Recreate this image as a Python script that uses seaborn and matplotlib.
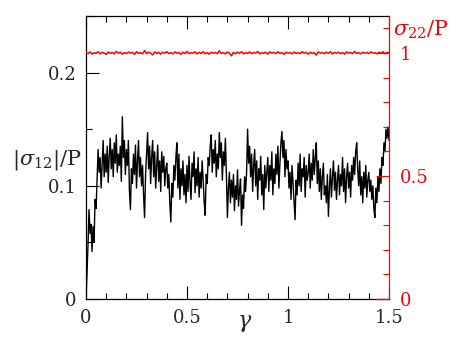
import numpy as np
import pandas as pd
import matplotlib
matplotlib.use('Agg')
import matplotlib.pyplot as plt
import seaborn as sns
from matplotlib.ticker import MultipleLocator

# |sigma_12|/P, every 0.005 in gamma
stress12 = [
    0.000, 0.022, 0.048, 0.079, 0.058, 0.066, 0.042, 0.064, 0.050, 0.088, 0.080, 0.105, 0.132, 0.112, 0.125, 0.098, 0.118, 0.140, 0.108, 0.128,
    0.112, 0.135, 0.103, 0.126, 0.142, 0.115, 0.132, 0.108, 0.138, 0.120, 0.145, 0.112, 0.128, 0.118, 0.135, 0.104, 0.161, 0.125, 0.140, 0.110,
    0.132, 0.118, 0.140, 0.096, 0.079, 0.115, 0.102, 0.128, 0.110, 0.136, 0.098, 0.122, 0.140, 0.108, 0.125, 0.100, 0.118, 0.092, 0.072, 0.110,
    0.128, 0.147, 0.115, 0.135, 0.102, 0.125, 0.140, 0.108, 0.130, 0.098, 0.118, 0.136, 0.104, 0.122, 0.095, 0.130, 0.112, 0.126, 0.100, 0.115,
    0.120, 0.098, 0.110, 0.085, 0.068, 0.102, 0.090, 0.118, 0.105, 0.125, 0.138, 0.098, 0.128, 0.088, 0.115, 0.100, 0.122, 0.092, 0.110, 0.085,
    0.118, 0.095, 0.126, 0.102, 0.088, 0.120, 0.108, 0.130, 0.094, 0.115, 0.100, 0.125, 0.090, 0.112, 0.098, 0.122, 0.105, 0.086, 0.074, 0.110,
    0.102, 0.125, 0.118, 0.135, 0.145, 0.112, 0.132, 0.120, 0.140, 0.108, 0.128, 0.115, 0.147, 0.125, 0.138, 0.105, 0.130, 0.118, 0.142, 0.110,
    0.072, 0.098, 0.112, 0.085, 0.105, 0.090, 0.110, 0.078, 0.100, 0.088, 0.114, 0.082, 0.096, 0.106, 0.065, 0.092, 0.080, 0.108, 0.095, 0.112,
    0.150, 0.120, 0.135, 0.108, 0.128, 0.095, 0.118, 0.132, 0.100, 0.122, 0.088, 0.115, 0.105, 0.126, 0.092, 0.110, 0.079, 0.118, 0.098, 0.112,
    0.125, 0.095, 0.118, 0.105, 0.130, 0.092, 0.115, 0.102, 0.128, 0.110, 0.135, 0.098, 0.120, 0.138, 0.148, 0.125, 0.140, 0.108, 0.132, 0.115,
    0.122, 0.098, 0.112, 0.088, 0.118, 0.102, 0.085, 0.070, 0.105, 0.092, 0.120, 0.100, 0.128, 0.095, 0.115, 0.108, 0.125, 0.090, 0.118, 0.105,
    0.112, 0.128, 0.098, 0.120, 0.105, 0.132, 0.110, 0.125, 0.138, 0.102, 0.122, 0.095, 0.115, 0.088, 0.108, 0.120, 0.092, 0.100, 0.085, 0.110,
    0.073, 0.098, 0.115, 0.090, 0.108, 0.122, 0.096, 0.112, 0.088, 0.105, 0.118, 0.092, 0.110, 0.100, 0.125, 0.095, 0.115, 0.085, 0.108, 0.120,
    0.098, 0.112, 0.090, 0.118, 0.105, 0.125, 0.110, 0.130, 0.138, 0.115, 0.100, 0.122, 0.092, 0.108, 0.085, 0.112, 0.098, 0.118, 0.090, 0.105,
    0.112, 0.095, 0.105, 0.088, 0.100, 0.080, 0.072, 0.098, 0.085, 0.108, 0.095, 0.115, 0.102, 0.125, 0.118, 0.138, 0.130, 0.150, 0.142, 0.152, 0.140,
]

# sigma_22/P, read every 0.01 in gamma
stress22 = [
    1.002, 0.997, 1.004, 0.995, 1.001, 0.998, 1.005, 0.996, 1.003, 0.999, 0.994, 1.004, 0.998, 1.002, 0.996, 1.006, 0.999, 1.003, 0.995, 1.001,
    0.997, 1.004, 0.999, 1.002, 0.994, 1.005, 0.998, 1.001, 0.996, 1.010, 0.997, 1.003, 0.999, 0.992, 1.004, 0.998, 1.002, 0.995, 1.003, 0.999,
    1.005, 0.997, 1.001, 0.996, 1.004, 0.999, 1.002, 0.994, 1.003, 0.998, 1.006, 0.997, 1.001, 0.999, 1.004, 0.996, 1.002, 0.998, 1.005, 0.997,
    1.001, 0.995, 1.003, 0.999, 1.002, 0.997, 1.008, 0.998, 1.001, 0.996, 1.004, 0.999, 0.988, 1.002, 0.997, 1.003, 0.999, 1.005, 0.996, 1.001,
    0.998, 1.004, 0.997, 1.002, 0.999, 1.006, 0.996, 1.001, 0.998, 1.003, 0.995, 1.004, 0.999, 1.002, 0.997, 1.005, 0.998, 1.001, 0.994, 1.003,
    0.999, 1.002, 0.996, 1.004, 0.998, 1.001, 0.997, 1.005, 0.999, 1.002, 0.995, 1.003, 0.998, 1.001, 0.991, 1.004, 0.999, 1.002, 0.997, 1.003,
    0.998, 1.005, 0.996, 1.002, 0.999, 1.003, 0.997, 1.001, 0.995, 1.004, 0.999, 1.002, 0.997, 1.006, 0.998, 1.001, 0.996, 1.003, 0.999, 1.002,
    0.997, 1.004, 0.999, 1.001, 0.996, 1.003, 0.998, 1.005, 0.997, 1.002, 1.000,
]

xticks = [0, 0.5, 1, 1.5]
xticklabels = ['0', '0.5', '1', '1.5']

sns.set_style('ticks')
plt.rcParams['font.family'] = ['DejaVu Serif']
plt.rcParams['mathtext.fontset'] = 'dejavuserif'
plt.rcParams['xtick.top'] = True
plt.rcParams['xtick.direction'] = 'in'
plt.rcParams['ytick.direction'] = 'in'

df12 = pd.DataFrame({'gamma': np.arange(len(stress12)) * 0.005, 's12': stress12})
df22 = pd.DataFrame({'gamma': np.arange(len(stress22)) * 0.01, 's22': stress22})

fig = plt.figure(figsize=(4.63, 3.42), dpi=100)
ax = fig.add_axes([0.1857, 0.1257, 0.6545, 0.8275])
ax2 = ax.twinx()

sns.lineplot(data=df12, x='gamma', y='s12', ax=ax, color='black', linewidth=1.0)
sns.lineplot(data=df22, x='gamma', y='s22', ax=ax2, color='red', linewidth=1.1)

ax.set_xlim(0, 1.5)
ax.set_ylim(0, 0.25)
ax2.set_ylim(0, 1.15)

ax.set_xticks(xticks)
ax.set_xticklabels(xticklabels)
ax.xaxis.set_minor_locator(MultipleLocator(0.1))
ax.set_yticks([0, 0.1, 0.2])
ax.set_yticklabels(['0', '0.1', '0.2'])
ax.yaxis.set_minor_locator(MultipleLocator(0.05))
ax2.set_yticks([0, 0.5, 1])
ax2.set_yticklabels(['0', '0.5', '1'])
ax2.yaxis.set_minor_locator(MultipleLocator(0.1))

ax.tick_params(which='major', direction='in', length=9.5, width=0.8, labelsize=13, pad=7,
               color='black')
ax.tick_params(which='minor', direction='in', length=4.3, width=0.8, color='black')
ax.tick_params(axis='x', which='both', top=True, bottom=True, labeltop=False, labelbottom=True)
ax2.tick_params(which='major', direction='in', length=9.5, width=0.8, labelsize=13, pad=8,
                colors='red')
ax2.tick_params(which='minor', direction='in', length=4.3, width=0.8, colors='red')

for s in ['left', 'bottom', 'top']:
    ax.spines[s].set_visible(True)
    ax.spines[s].set_linewidth(0.9)
    ax.spines[s].set_color('black')
ax.spines['right'].set_visible(False)
for s in ['left', 'top']:
    ax2.spines[s].set_visible(False)
ax2.spines['right'].set_visible(True)
ax2.spines['right'].set_color('red')
ax2.spines['right'].set_linewidth(0.9)
ax2.spines['bottom'].set_visible(True)
ax2.spines['bottom'].set_color('red')
ax2.spines['bottom'].set_linewidth(0.9)
ax2.spines['bottom'].set_bounds(1.44, 1.5)

ax.set_xlabel(r'$\gamma$', fontsize=16, va='center')
ax.xaxis.set_label_coords(0.525, -0.085)
ax.set_ylabel(r'$|\sigma_{12}|/\mathrm{P}$', fontsize=15, rotation=0, ha='right', va='center')
ax.yaxis.set_label_coords(-0.015, 0.49)
ax2.set_ylabel('')
ax2.text(1.012, 0.95, r'$\sigma_{22}/\mathrm{P}$', transform=ax.transAxes, color='red',
         fontsize=15, ha='left', va='center')

fig.savefig('out.png', dpi=100)
